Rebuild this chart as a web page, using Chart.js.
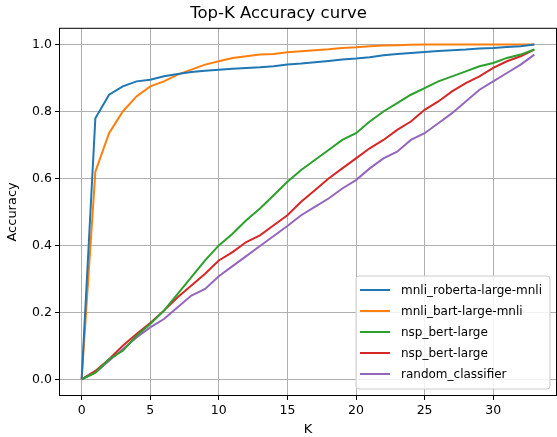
<!DOCTYPE html>
<html>
<head>
<meta charset="utf-8">
<script src="https://cdn.jsdelivr.net/npm/chart.js@4/dist/chart.umd.min.js"></script>
<style>
  html, body { margin: 0; padding: 0; background: #fff; }
  #wrap { width: 557px; height: 437px; }
</style>
</head>
<body>
<div id="wrap"><canvas id="myChart"></canvas></div>
<script>
// K values 0..33
const kValues = [];
for (let k = 0; k <= 33; k++) kValues.push(k);

const seriesNames = ["mnli_roberta-large-mnli", "mnli_bart-large-mnli", "nsp_bert-large", "nsp_bert-large", "random_classifier"];
const seriesColors = ["#1f77b4", "#ff7f0e", "#2ca02c", "#d62728", "#9467bd"];

const robertaAcc = [0, 0.78, 0.85, 0.875, 0.89, 0.895, 0.905, 0.912, 0.918, 0.922, 0.925, 0.928, 0.93, 0.932, 0.935, 0.94,
  0.943, 0.947, 0.951, 0.955, 0.958, 0.962, 0.968, 0.972, 0.975, 0.978, 0.981, 0.983, 0.985, 0.988, 0.99, 0.993, 0.995, 1.0];
const bartAcc = [0, 0.62, 0.735, 0.8, 0.845, 0.875, 0.89, 0.91, 0.925, 0.94, 0.95, 0.96, 0.965, 0.97, 0.972, 0.977,
  0.98, 0.983, 0.986, 0.99, 0.992, 0.995, 0.997, 0.998, 0.999, 1.0, 1.0, 1.0, 1.0, 1.0, 1.0, 1.0, 1.0, 1.0];
const nspGreenAcc = [0, 0.02, 0.06, 0.085, 0.13, 0.165, 0.205, 0.255, 0.305, 0.355, 0.4, 0.435, 0.475, 0.51, 0.55, 0.59,
  0.625, 0.655, 0.685, 0.715, 0.735, 0.77, 0.8, 0.825, 0.85, 0.87, 0.89, 0.905, 0.92, 0.935, 0.945, 0.96, 0.97, 0.985];
const nspRedAcc = [0, 0.025, 0.06, 0.1, 0.135, 0.168, 0.205, 0.245, 0.28, 0.315, 0.355, 0.38, 0.41, 0.43, 0.46, 0.49,
  0.53, 0.565, 0.6, 0.63, 0.66, 0.69, 0.715, 0.745, 0.77, 0.805, 0.83, 0.86, 0.885, 0.905, 0.93, 0.95, 0.965, 0.985];
const randomAcc = [0, 0.02, 0.055, 0.09, 0.125, 0.155, 0.18, 0.215, 0.25, 0.27, 0.308, 0.338, 0.368, 0.398, 0.428, 0.458,
  0.49, 0.515, 0.54, 0.57, 0.595, 0.63, 0.66, 0.68, 0.715, 0.735, 0.765, 0.795, 0.83, 0.865, 0.89, 0.915, 0.94, 0.97];

const xTicks = [0, 5, 10, 15, 20, 25, 30];
const yTicks = [0.0, 0.2, 0.4, 0.6, 0.8, 1.0];

const FONT = "'DejaVu Sans', sans-serif";
const allSeries = [robertaAcc, bartAcc, nspGreenAcc, nspRedAcc, randomAcc];

const data = {
  datasets: allSeries.map(function (vals, i) {
    return {
      label: seriesNames[i],
      data: vals.map(function (v, j) { return { x: kValues[j], y: v }; }),
      borderColor: seriesColors[i],
      backgroundColor: seriesColors[i],
      borderWidth: 2,
      pointRadius: 0,
      tension: 0,
    };
  }),
};

// frame + legend drawn like matplotlib
const mplStyle = {
  id: "mplStyle",
  afterDatasetsDraw(chart) {
    const ctx = chart.ctx;
    const a = chart.chartArea;
    ctx.save();
    ctx.strokeStyle = "#000";
    ctx.lineWidth = 1;
    ctx.strokeRect(a.left + 0.5, a.top + 0.5, a.right - a.left - 1, a.bottom - a.top - 1);

    // legend box
    ctx.font = "12px " + FONT;
    let maxW = 0;
    seriesNames.forEach(function (n) { maxW = Math.max(maxW, ctx.measureText(n).width); });
    const rowH = 21;
    const w = 45 + maxW + 8;
    const h = rowH * seriesNames.length + 8;
    const x0 = a.right - 7 - w;
    const y0 = a.bottom - 7 - h;
    ctx.fillStyle = "rgba(255,255,255,0.85)";
    ctx.strokeStyle = "#cccccc";
    ctx.beginPath();
    ctx.roundRect(x0, y0, w, h, 3);
    ctx.fill();
    ctx.stroke();
    seriesNames.forEach(function (n, i) {
      const yy = y0 + 14 + i * rowH;
      ctx.strokeStyle = seriesColors[i];
      ctx.lineWidth = 2;
      ctx.beginPath();
      ctx.moveTo(x0 + 4, yy);
      ctx.lineTo(x0 + 34, yy);
      ctx.stroke();
      ctx.fillStyle = "#000";
      ctx.textBaseline = "middle";
      ctx.fillText(n, x0 + 45, yy + 1);
    });
    ctx.restore();
  },
};

const config = {
  type: "line",
  data: data,
  options: {
    responsive: true,
    maintainAspectRatio: false,
    animation: false,
    layout: { padding: { left: 0, right: 0, top: 0, bottom: 0 } },
    plugins: {
      legend: { display: false },
      tooltip: { enabled: false },
      title: {
        display: true,
        text: "Top-K Accuracy curve",
        color: "#000",
        font: { family: FONT, size: 16.5, weight: "normal" },
        padding: { top: 4, bottom: 4 },
      },
    },
    scales: {
      x: {
        type: "linear",
        min: -1.65,
        max: 34.65,
        afterBuildTicks: function (axis) { axis.ticks = xTicks.map(function (v) { return { value: v }; }); },
        afterFit: function (axis) { axis.height = 41; },
        grid: { color: "#b0b0b0", lineWidth: 1, tickColor: "#000", tickLength: 4 },
        border: { display: false },
        ticks: { color: "#000", font: { family: FONT, size: 12.5 }, padding: 3, maxRotation: 0 },
        title: { display: true, text: "K", color: "#000", font: { family: FONT, size: 13 }, padding: { top: 2, bottom: 0 } },
      },
      y: {
        min: -0.05,
        max: 1.05,
        afterBuildTicks: function (axis) { axis.ticks = yTicks.map(function (v) { return { value: v }; }); },
        afterFit: function (axis) { axis.width = 59; },
        grid: { color: "#b0b0b0", lineWidth: 1, tickColor: "#000", tickLength: 4 },
        border: { display: false },
        ticks: {
          color: "#000",
          font: { family: FONT, size: 12.5 },
          padding: 3,
          callback: function (v) { return v.toFixed(1); },
        },
        title: { display: true, text: "Accuracy", color: "#000", font: { family: FONT, size: 13 }, padding: { top: 5, bottom: 2 } },
      },
    },
  },
  plugins: [mplStyle],
};

const context = document.getElementById("myChart").getContext("2d");
const chart = new Chart(context, config);
</script>
</body>
</html>
